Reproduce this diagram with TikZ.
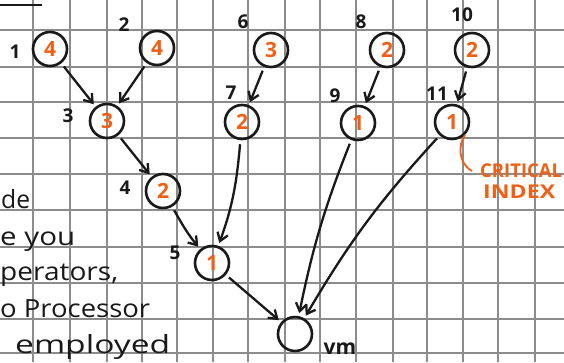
\documentclass[tikz,border=0pt]{standalone}
\usepackage{fontspec}
\setmainfont{Open Sans}
\usetikzlibrary{arrows.meta}
\definecolor{ink}{RGB}{25,25,25}
\definecolor{hl}{RGB}{240,95,20}
\definecolor{gridc}{RGB}{140,140,140}
\begin{document}
\begin{tikzpicture}[x=1pt,y=-1pt,
  task/.style={circle,draw=ink,line width=2.6pt,minimum size=34pt,inner sep=0pt,text=hl,font=\fontsize{21}{21}\selectfont\bfseries},
  lbl/.style={text=ink,font=\fontsize{19}{19}\selectfont\bfseries,inner sep=0pt},
  arr/.style={draw=ink,line width=2.3pt,-{Straight Barb[length=8pt,width=11pt,line width=2.3pt]},shorten <=4pt,shorten >=3pt},
  note/.style={text=ink,font=\fontsize{25}{25}\selectfont,inner sep=0pt,anchor=base west},
  crit/.style={text=hl,font=\fontsize{19}{19}\selectfont\bfseries,inner sep=0pt,anchor=west},
  gridline/.style={draw=gridc,line width=1.5pt}
]
\useasboundingbox (0,0) rectangle (564,362);
\fill[white] (0,0) rectangle (564,362);
\foreach \x in {33,70,107,142,177,213,248,285,320,356,393,427,463,498,535}
  \draw[gridline] (\x,0) -- (\x,362);
\foreach \y in {30,67,102,138,174,210,247,283,319,353}
  \draw[gridline] (0,\y) -- (564,\y);
\draw[ink,line width=2.3pt] (0,5) -- (42,5);

% task nodes
\node[task] (n1) at (50,49) {4};
\node[task] (n2) at (157,48) {4};
\node[task] (n3) at (107,121) {3};
\node[task] (n4) at (163,191) {2};
\node[task] (n5) at (212,263) {1};
\node[task] (n6) at (271,50) {3};
\node[task] (n7) at (242,122) {2};
\node[task] (n8) at (387,50) {2};
\node[task] (n9) at (358,123) {1};
\node[task] (n10) at (472,50) {2};
\node[task] (n11) at (452,122) {1};
\node[task] (vm) at (295,334) {};

% index labels
\node[lbl] (l1) at (15,52) {1};
\node[lbl] (l2) at (124,25) {2};
\node[lbl] (l3) at (68,116) {3};
\node[lbl] (l4) at (125,188) {4};
\node[lbl] (l5) at (175,253) {5};
\node[lbl] (l6) at (243,22) {6};
\node[lbl] (l7) at (231,93) {7};
\node[lbl] (l8) at (361,22) {8};
\node[lbl] (l9) at (335,96) {9};
\node[lbl] (l10) at (462,15) {10};
\node[lbl] (l11) at (437,94) {11};
\node[lbl,font=\fontsize{21}{21}\selectfont\bfseries] (lvm) at (340,349) {vm};

% connectors
\draw[arr] (n1) -- (n3);
\draw[arr] (n2) -- (n3);
\draw[arr] (n3) -- (n4);
\draw[arr] (n4) to[out=-60,in=130] (n5);
\draw[arr] (n7) to[out=-95,in=70] (n5);
\draw[arr] (n6) -- (n7);
\draw[arr] (n8) -- (n9);
\draw[arr] (n10) -- (n11);
\draw[arr] (n5) -- (vm);
\draw[arr] (n9) to[bend right=5] (vm);
\draw[arr] (n11) to[bend right=6] (vm);

% critical index
\node[crit] (ci1) at (480,171) {\resizebox{82pt}{\height}{CRITICAL}};
\node[crit] (ci2) at (483,192) {\resizebox{72pt}{\height}{INDEX}};
\draw[hl,line width=1.8pt] (n11.-45) .. controls (458,145) and (458,163) .. ([xshift=-8pt]ci1.west);

% side notes (cut at the left edge)
\node[note] (t1) at (1,208) {\resizebox{29pt}{\height}{de}};
\node[note] (t2) at (0,245) {\resizebox{75pt}{\height}{e you}};
\node[note] (t3) at (0,280) {\resizebox{118pt}{\height}{perators,}};
\node[note] (t4) at (0,317) {\resizebox{150pt}{\height}{o Processor}};
\node[note] (t5) at (15,353) {\resizebox{155pt}{\height}{employed}};
\end{tikzpicture}
\end{document}
